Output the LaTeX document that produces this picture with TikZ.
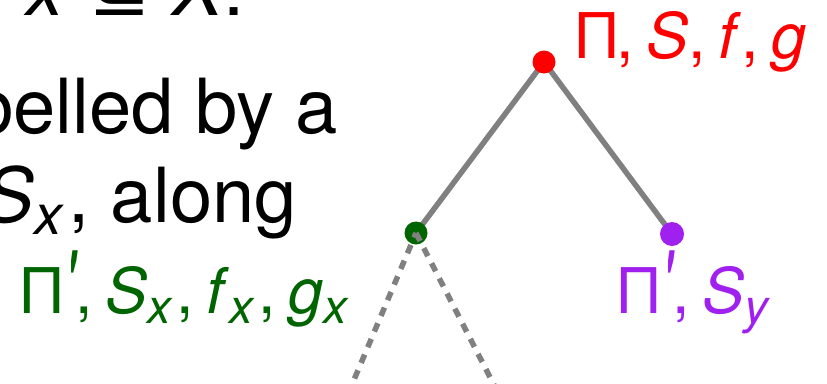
\documentclass[tikz,border=0pt]{standalone}
\usepackage{fontspec}
\setmainfont{TeX Gyre Heros}
\newfontfamily\symfont{DejaVu Sans}
\usetikzlibrary{positioning}
\definecolor{rootred}{RGB}{255,0,0}
\definecolor{leftgreen}{RGB}{0,100,0}
\definecolor{rightpurple}{RGB}{160,32,240}
\definecolor{edgegray}{RGB}{128,128,128}
\newcommand{\bodyfont}{\fontsize{76}{90}\selectfont}
\newcommand{\labelfont}{\fontsize{63}{74}\selectfont}
\newcommand{\subx}[1]{\raisebox{-10pt}{\fontsize{48}{50}\selectfont\itshape #1}\hspace{0.08em}}
\newcommand{\bodysub}[1]{\raisebox{-12pt}{\fontsize{56}{60}\selectfont\itshape #1}\hspace{0.08em}}
\newcommand{\cm}{,\hspace{0.2em}}
\newcommand{\primed}{\hspace{0.05em}\raisebox{-2pt}{\scalebox{0.9}[1.45]{\itshape\textquotesingle}}}

\begin{document}
\begin{tikzpicture}[x=1pt, y=-1pt,
    vertex/.style={circle, inner sep=0pt, minimum size=23pt},
    treeedge/.style={draw=edgegray, line width=5.5pt},
    subtree/.style={draw=edgegray, line width=5.5pt, dash pattern=on 9pt off 8pt},
    lbl/.style={inner sep=0pt, anchor=base west, font=\labelfont}]
  \useasboundingbox (0,0) rectangle (827,383);

  % Slide text (cut by the frame)
  \node[anchor=base west, inner sep=0pt, font=\bodyfont] (line1) at (26,15) {\textit{x} {\symfont ⊆} \textit{X}.};
  \node[anchor=base east, inner sep=0pt, font=\bodyfont] (line2) at (338,133) {belled by a};
  \node[anchor=base east, inner sep=0pt, font=\bodyfont] (line3) at (297,222) {\textit{S}\bodysub{x}, along};

  % Tree vertices
  \coordinate (leftbelow) at (337,420);
  \coordinate (rightbelow) at (512,420);
  \path (544,62) node[vertex] (root) {}
        (416,233) node[vertex] (left) {}
        (672,234) node[vertex] (right) {};
  \draw[treeedge] (root.center) -- (left.center);
  \draw[treeedge] (root.center) -- (right.center);
  \fill[rootred] (root) circle (11.5pt);
  \fill[leftgreen] (left) circle (11.5pt);
  \fill[rightpurple] (right) circle (12pt);

  % Subtrees below x
  \draw[subtree, dash phase=4pt] (left.center) -- (leftbelow);
  \draw[subtree] (left.center) -- (rightbelow);

  % Labels
  \node[lbl, text=rootred] (rootlbl) at (577,58) {Π\cm\textit{S}\cm\textit{f}\cm\textit{g}};
  \node[lbl, text=leftgreen] (leftlbl) at (22,313) {Π\primed\cm\textit{S}\subx{x}\cm\textit{f}\subx{x}\cm\textit{g}\subx{x}};
  \node[lbl, text=rightpurple] (rightlbl) at (619,313) {Π\primed\cm\textit{S}\subx{y}};
\end{tikzpicture}
\end{document}
